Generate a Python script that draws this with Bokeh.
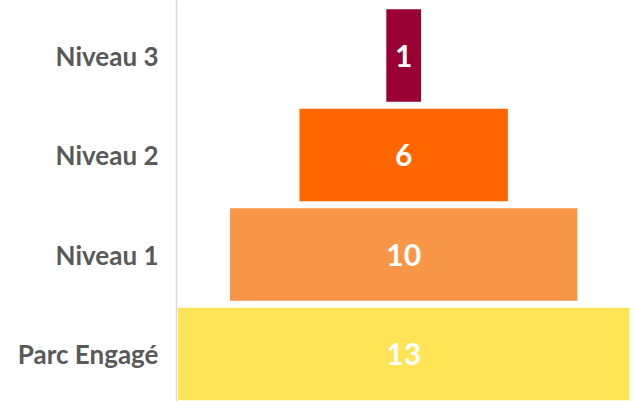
from bokeh.plotting import figure
from bokeh.models import ColumnDataSource, FixedTicker, Range1d
from bokeh.core.properties import value
from bokeh.embed import file_html
from bokeh.resources import INLINE

categories = ["Parc Engagé", "Niveau 1", "Niveau 2", "Niveau 3"]
counts = [13, 10, 6, 1]
colors = ["#FFE555", "#F79646", "#FF6600", "#990033"]

pos = list(range(len(categories)))
src = ColumnDataSource(dict(
    y=pos,
    left=[-c / 2 for c in counts],
    right=[c / 2 for c in counts],
    color=colors,
    label=[str(c) for c in counts],
    x=[0] * len(counts),
))

p = figure(width=630, height=401, output_backend="svg", toolbar_location=None,
           x_range=Range1d(-6.54, 6.53), y_range=Range1d(-0.477, 3.553),
           min_border_left=176, min_border_right=0, min_border_top=0, min_border_bottom=0)

p.hbar(y="y", left="left", right="right", height=0.93, fill_color="color",
       line_color=None, source=src)
p.text(x="x", y="y", text="label", source=src, text_color="white",
       text_font=value("Lato"), text_font_style="bold", text_font_size="30px",
       text_align="center", text_baseline="middle")

p.xaxis.visible = False
p.xgrid.visible = False
p.ygrid.visible = False
p.outline_line_color = None

ya = p.yaxis[0]
ya.ticker = FixedTicker(ticks=pos)
ya.major_label_overrides = {i: c for i, c in zip(pos, categories)}
ya.major_tick_line_color = None
ya.minor_tick_line_color = None
ya.axis_line_color = "#D9D9D9"
ya.axis_line_width = 1.5
ya.major_label_standoff = 12
ya.major_label_text_font = "Lato"
ya.major_label_text_font_style = "bold"
ya.major_label_text_font_size = "26px"
ya.major_label_text_color = "#595959"

open("out.html", "w").write(file_html(p, INLINE))
